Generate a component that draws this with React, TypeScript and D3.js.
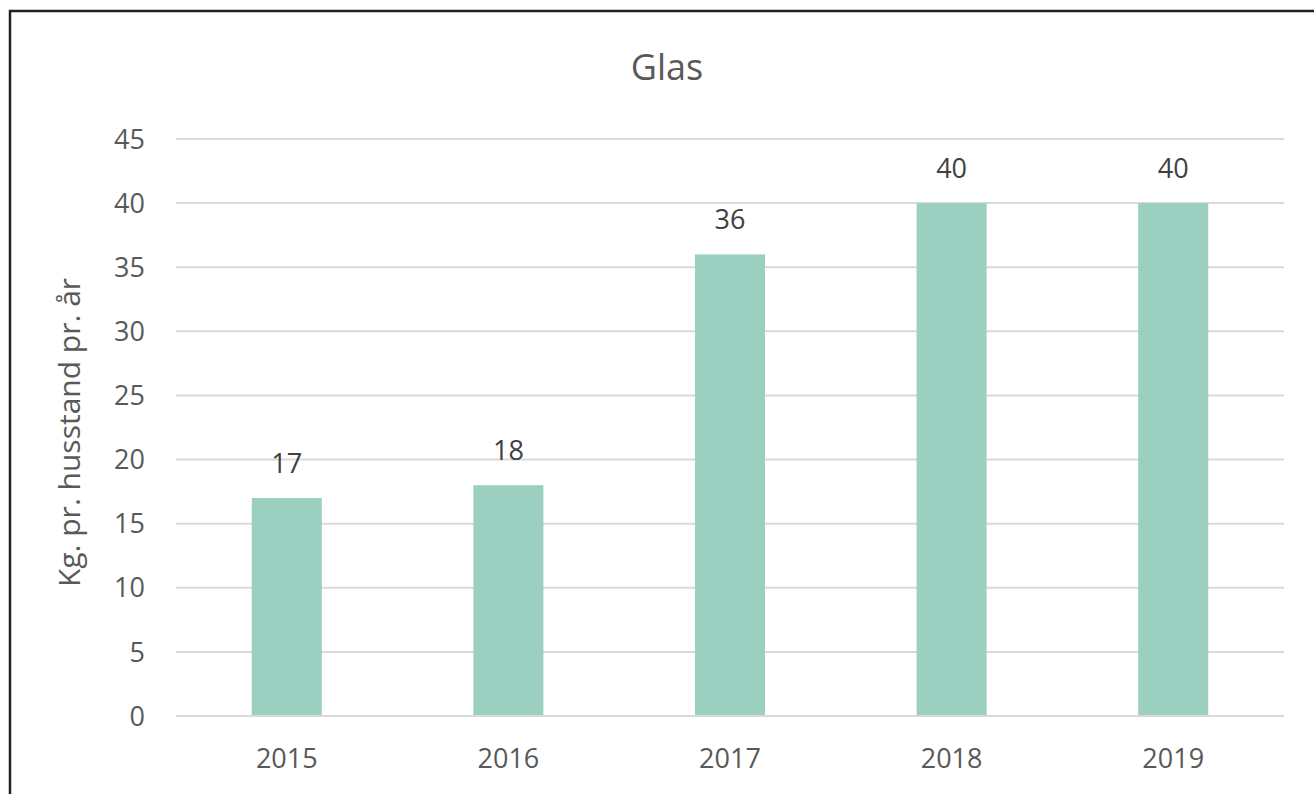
import React from "react";
import * as d3 from "d3";

const categories = ["2015", "2016", "2017", "2018", "2019"];
const values = [17, 18, 36, 40, 40];
const yTicks = [0, 5, 10, 15, 20, 25, 30, 35, 40, 45];
const title = "Glas";
const yLabel = "Kg. pr. husstand pr. år";

export default function App() {
  const W = 1314, H = 794;
  const left = 176, right = 1284, top = 139, bottom = 716;
  const x = d3.scaleBand().domain(categories).range([left, right]).paddingInner(0.684).paddingOuter(0.342);
  const y = d3.scaleLinear().domain([0, 45]).range([bottom, top]);
  const font = "'Open Sans', sans-serif";
  return (
    <svg width={W} height={H} style={{ position: "absolute", left: 0, top: 0, background: "#fff" }} fontFamily={font}>
      <rect x={0} y={0} width={W} height={H} fill="#fff" />
      <rect x={10} y={11} width={1400} height={900} fill="none" stroke="#222" strokeWidth={2.5} />
      <text x={667} y={80} textAnchor="middle" fontSize={36} fill="#595959">{title}</text>
      {yTicks.map((t) => (
        <g key={t}>
          <line x1={left} x2={right} y1={y(t)} y2={y(t)} stroke="#d9d9d9" strokeWidth={2} />
          <text x={145} y={y(t)} dy="0.36em" textAnchor="end" fontSize={27} fill="#595959">{t}</text>
        </g>
      ))}
      {categories.map((c, i) => (
        <g key={c}>
          <rect x={x(c)} y={y(values[i])} width={x.bandwidth()} height={y(0) - y(values[i])} fill="#9BD0C1" />
          <text x={x(c)! + x.bandwidth() / 2} y={y(values[i]) - 25} textAnchor="middle" fontSize={27} fill="#404040">{values[i]}</text>
          <text x={x(c)! + x.bandwidth() / 2} y={768} textAnchor="middle" fontSize={27} fill="#595959">{c}</text>
        </g>
      ))}
      <line x1={left} x2={right} y1={y(0)} y2={y(0)} stroke="#d9d9d9" strokeWidth={2} />
      <text transform={`translate(80,${(top + bottom) / 2 + 5}) rotate(-90)`} textAnchor="middle" fontSize={30} fill="#595959">{yLabel}</text>
    </svg>
  );
}
